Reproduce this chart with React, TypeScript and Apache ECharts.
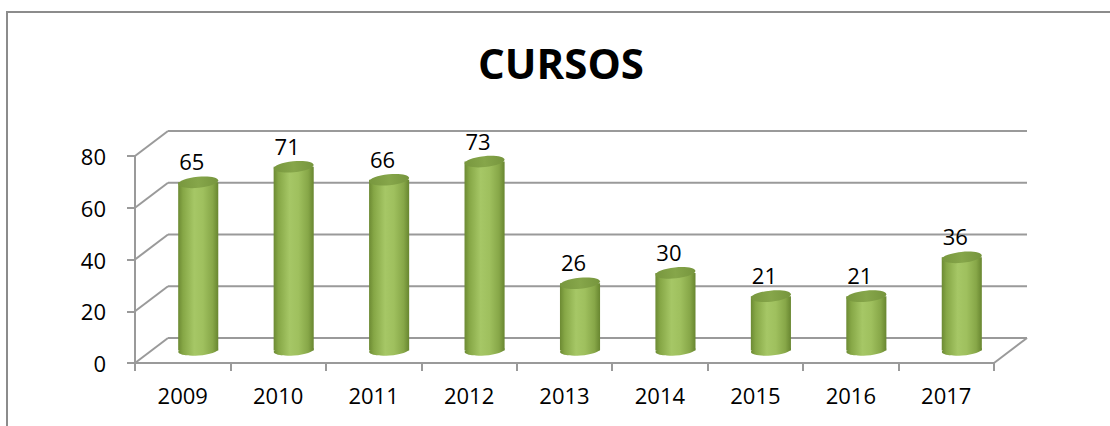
import React, { useEffect, useRef } from "react";
import * as echarts from "echarts";

const categories = ["2009", "2010", "2011", "2012", "2013", "2014", "2015", "2016", "2017"];
const values = [65, 71, 66, 73, 26, 30, 21, 21, 36];
const yTicks = [0, 20, 40, 60, 80];
const titleText = "CURSOS";

const DX = 33;
const DY = -25;
const GRID_COLOR = "#9A9A9A";
const FONT = "'Open Sans', 'DejaVu Sans', sans-serif";

export default function App() {
  const ref = useRef<HTMLDivElement>(null);
  useEffect(() => {
    if (!ref.current) return;
    const chart = echarts.init(ref.current, null, { renderer: "svg" });

    const bodyGrad = () =>
      new echarts.graphic.LinearGradient(0, 0, 1, 0, [
        { offset: 0, color: "#6C8A33" },
        { offset: 0.12, color: "#86A746" },
        { offset: 0.4, color: "#A6C766" },
        { offset: 0.62, color: "#9FC05E" },
        { offset: 0.86, color: "#87A748" },
        { offset: 1, color: "#688630" },
      ]);
    const topGrad = () =>
      new echarts.graphic.LinearGradient(0, 0, 1, 0, [
        { offset: 0, color: "#78973E" },
        { offset: 0.5, color: "#86A64A" },
        { offset: 1, color: "#76953D" },
      ]);

    const option: any = {
      animation: false,
      grid: { left: 135, right: 116, top: 156, bottom: 63, containLabel: false },
      graphic: [
        {
          type: "rect",
          shape: { x: 7, y: 12, width: 1300, height: 600 },
          style: { fill: "none", stroke: "#8C8C8C", lineWidth: 2 },
          silent: true,
          z: -10,
        },
        {
          type: "text",
          x: 561,
          y: 62,
          style: {
            text: titleText,
            font: `bold 42px ${FONT}`,
            fill: "#000",
            align: "center",
            verticalAlign: "middle",
          },
        },
      ],
      xAxis: {
        type: "category",
        data: categories,
        boundaryGap: true,
        axisLine: { show: true, lineStyle: { color: GRID_COLOR, width: 2 } },
        axisTick: { show: true, length: 8, lineStyle: { color: GRID_COLOR, width: 2 } },
        axisLabel: { color: "#000", fontSize: 22, fontFamily: FONT, margin: 21 },
        splitLine: { show: false },
      },
      yAxis: {
        type: "value",
        min: 0,
        max: 80,
        interval: 20,
        axisLine: { show: true, lineStyle: { color: GRID_COLOR, width: 2 } },
        axisTick: { show: true, length: 8, lineStyle: { color: GRID_COLOR, width: 2 } },
        axisLabel: { color: "#000", fontSize: 22, fontFamily: FONT, margin: 29 },
        splitLine: { show: false },
      },
      series: [
        {
          type: "custom",
          name: "walls",
          silent: true,
          z: 1,
          data: yTicks.map((t) => [0, t]),
          renderItem: (params: any, api: any) => {
            const cs = params.coordSys;
            const x0 = cs.x;
            const x1 = cs.x + cs.width;
            const v = api.value(1);
            const y = api.coord([0, v])[1];
            const ls = { stroke: GRID_COLOR, lineWidth: 2 };
            const children: any[] = [
              { type: "line", shape: { x1: x0, y1: y, x2: x0 + DX, y2: y + DY }, style: ls },
              { type: "line", shape: { x1: x0 + DX, y1: y + DY, x2: x1 + DX, y2: y + DY }, style: ls },
            ];
            if (v === 0) {
              children.push({ type: "line", shape: { x1: x1, y1: y, x2: x1 + DX, y2: y + DY }, style: ls });
            }
            return { type: "group", children };
          },
        },
        {
          type: "custom",
          name: "CURSOS",
          z: 5,
          data: values.map((v, i) => [i, v]),
          renderItem: (params: any, api: any) => {
            const i = api.value(0);
            const v = api.value(1);
            const top = api.coord([i, v]);
            const base = api.coord([i, 0]);
            const band = api.size([1, 0])[0];
            const rx = (band * 0.42) / 2;
            const ry = 5;
            const mx = top[0] + DX * 0.47;
            const topY = top[1] + DY * 0.5;
            const baseY = base[1] + DY * 0.5;
            return {
              type: "group",
              children: [
                {
                  type: "ellipse",
                  x: mx,
                  y: baseY,
                  rotation: 0.08,
                  shape: { cx: 0, cy: 0, rx, ry },
                  style: { fill: bodyGrad() },
                },
                {
                  type: "rect",
                  shape: { x: mx - rx, y: topY, width: rx * 2, height: baseY - topY },
                  style: { fill: bodyGrad() },
                },
                {
                  type: "ellipse",
                  x: mx,
                  y: topY,
                  rotation: 0.1,
                  shape: { cx: 0, cy: 0, rx, ry: ry + 0.5 },
                  style: { fill: topGrad() },
                },
                {
                  type: "text",
                  x: top[0] + 9,
                  y: topY - 21,
                  style: {
                    text: String(v),
                    font: `22px ${FONT}`,
                    fill: "#000",
                    align: "center",
                    verticalAlign: "middle",
                  },
                },
              ],
            };
          },
        },
      ],
    };
    chart.setOption(option);
    return () => chart.dispose();
  }, []);

  return (
    <div
      ref={ref}
      style={{ position: "fixed", left: 0, top: 0, width: 1110, height: 426, background: "#fff" }}
    />
  );
}
